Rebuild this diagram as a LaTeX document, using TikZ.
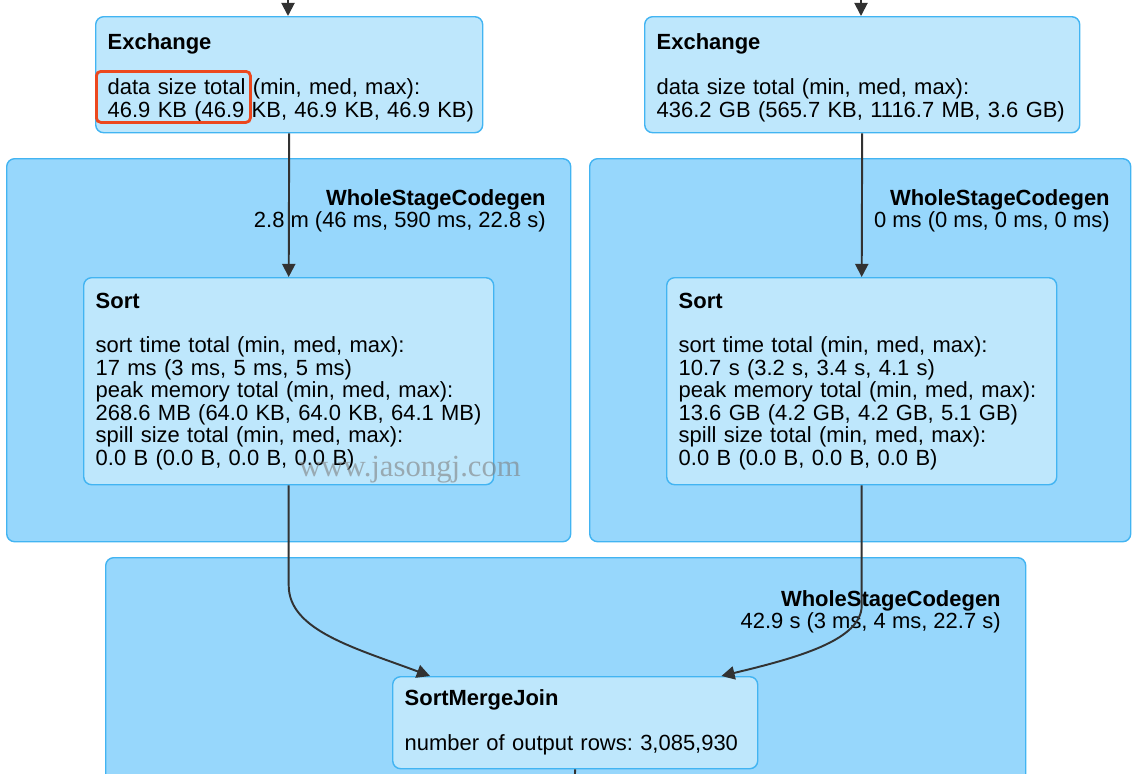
\documentclass[tikz,border=0pt]{standalone}
\usepackage{fontspec}
\setmainfont{Liberation Sans}
\newfontfamily\wmfont{Liberation Serif}
\usetikzlibrary{arrows.meta}
\newlength\px
\setlength\px{0.02cm}
\definecolor{opfill}{RGB}{190,231,252}
\definecolor{clfill}{RGB}{151,215,252}
\definecolor{edgec}{RGB}{66,180,242}
\definecolor{arrc}{RGB}{50,50,50}
\definecolor{hlred}{RGB}{236,72,30}
\tikzset{
  cluster/.style={draw=edgec, fill=clfill, line width=0.8pt, rounded corners=4.5pt, anchor=north west, inner sep=0pt},
  op/.style={draw=edgec, fill=opfill, line width=0.8pt, rounded corners=4.5pt, anchor=north west, inner xsep=12\px, inner ysep=0pt, align=left, font=\fontsize{12.5pt}{12.75pt}\selectfont},
  clabel/.style={anchor=north east, inner sep=0pt, align=right, font=\fontsize{12.5pt}{12.75pt}\selectfont},
  flow/.style={draw=arrc, line width=1.1pt, -{Triangle[width=7.5pt,length=7.5pt]}},
  conn/.style={draw=arrc, line width=1.1pt},
}
\begin{document}
\frenchspacing
\begin{tikzpicture}[x=0.02cm, y=-0.02cm]
\useasboundingbox (0,0) rectangle (1140,774);
% stage clusters
\node[cluster, minimum width=564\px, minimum height=383\px] (wsL) at (6,158) {};
\node[cluster, minimum width=541\px, minimum height=383\px] (wsR) at (589,158) {};
\node[cluster, minimum width=920\px, minimum height=260\px] (wsB) at (105,557) {};
\node[clabel] (wsLlab) at (546,189) {\textbf{WholeStageCodegen}\\2.8 m (46 ms, 590 ms, 22.8 s)};
\node[clabel] (wsRlab) at (1110,189) {\textbf{WholeStageCodegen}\\0 ms (0 ms, 0 ms, 0 ms)};
\node[clabel] (wsBlab) at (1001,590) {\textbf{WholeStageCodegen}\\42.9 s (3 ms, 4 ms, 22.7 s)};
% operators
\node[op, minimum width=387\px, minimum height=116\px, text width=363\px] (exL) at (95,16)
  {\rule{0pt}{12.5pt}\textbf{Exchange}\\[12.75pt]data size total (min, med, max):\\\mbox{46.9 KB (46.9 KB, 46.9 KB, 46.9 KB)}};
\node[op, minimum width=435\px, minimum height=116\px, text width=411\px] (exR) at (644,16)
  {\rule{0pt}{12.5pt}\textbf{Exchange}\\[12.75pt]data size total (min, med, max):\\436.2 GB (565.7 KB, 1116.7 MB, 3.6 GB)};
\node[op, minimum width=410\px, minimum height=207\px, text width=386\px] (sortL) at (83,277)
  {\textbf{Sort}\\[12.75pt]sort time total (min, med, max):\\17 ms (3 ms, 5 ms, 5 ms)\\peak memory total (min, med, max):\\268.6 MB (64.0 KB, 64.0 KB, 64.1 MB)\\spill size total (min, med, max):\\0.0 B (0.0 B, 0.0 B, 0.0 B)};
\node[op, minimum width=390\px, minimum height=207\px, text width=366\px] (sortR) at (666,277)
  {\textbf{Sort}\\[12.75pt]sort time total (min, med, max):\\10.7 s (3.2 s, 3.4 s, 4.1 s)\\peak memory total (min, med, max):\\13.6 GB (4.2 GB, 4.2 GB, 5.1 GB)\\spill size total (min, med, max):\\0.0 B (0.0 B, 0.0 B, 0.0 B)};
\node[op, minimum width=365\px, minimum height=92\px, text width=341\px] (smj) at (392,676)
  {\textbf{SortMergeJoin}\\[12.75pt]number of output rows: 3,085,930};
% free ends
\coordinate (inL) at (288,-4);
\coordinate (inR) at (861,-4);
\coordinate (outB) at (574,790);
% edges
\draw[flow] (inL) -- (inL |- exL.north);
\draw[flow] (inR) -- (inR |- exR.north);
\draw[flow] (exL.south) -- (sortL.north);
\draw[flow] (exR.south) -- (sortR.north);
\draw[flow] (sortL.south) -- ++(0,100) .. controls +(0,45) and +(-75,-28) .. ([xshift=38\px]smj.north west);
\draw[flow] (sortR.south) -- ++(0,120) .. controls +(0,35) and +(75,-18) .. ([xshift=-37\px]smj.north east);
\draw[conn] (smj.south) -- (outB);
% highlight and watermark
\node[draw=hlred, line width=1.6pt, rounded corners=2.5pt, anchor=north west, minimum width=154\px, minimum height=51\px, inner sep=0pt] (hl) at (95,70) {};
\node[text=gray, opacity=0.6, font=\wmfont\fontsize{17.5pt}{17.5pt}\selectfont] (wm) at (410,470) {www.jasongj.com};
\end{tikzpicture}
\end{document}
